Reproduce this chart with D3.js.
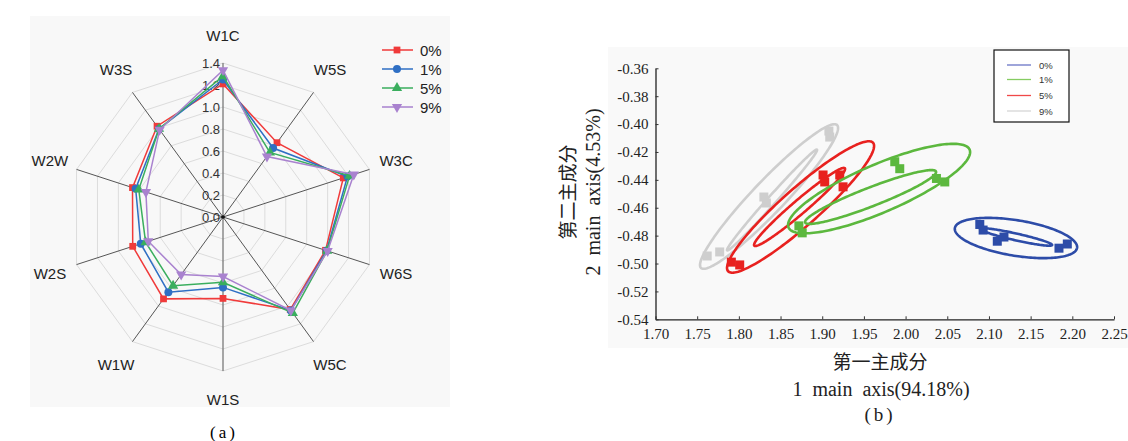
<!DOCTYPE html>
<html lang="zh">
<head>
<meta charset="UTF-8">
<title>Radar and PCA</title>
<script src="https://d3js.org/d3.v7.min.js"></script>
<style>
  body { margin: 0; background: #fff; }
  svg text { font-family: "Liberation Sans", Arial, sans-serif; }
  svg text.serif { font-family: "Liberation Serif", "Times New Roman", "Noto Sans CJK SC", serif; }
</style>
</head>
<body>
<div id="chart"></div>
<script>
const w = 1128;
const h = 441;

// ---- (a) radar data ----
const sensors = ["W1C", "W5S", "W3C", "W6S", "W5C", "W1S", "W1W", "W2S", "W2W", "W3S"];
const ringTicks = [0, 0.2, 0.4, 0.6, 0.8, 1.0, 1.2, 1.4];
const radarNames = ["0%", "1%", "5%", "9%"];
const radar0 = [1.21, 0.835, 1.15, 0.98, 1.04, 0.74, 0.92, 0.863, 0.865, 1.02];
const radar1 = [1.25, 0.775, 1.19, 0.99, 1.05, 0.64, 0.845, 0.786, 0.835, 0.99];
const radar5 = [1.28, 0.725, 1.21, 0.995, 1.08, 0.594, 0.772, 0.74, 0.805, 0.99];
const radar9 = [1.335, 0.68, 1.25, 1.0, 1.05, 0.541, 0.647, 0.714, 0.737, 0.98];

// ---- (b) PCA data ----
const pcaNames = ["0%", "1%", "5%", "9%"];
const xTicks = [1.70, 1.75, 1.80, 1.85, 1.90, 1.95, 2.00, 2.05, 2.10, 2.15, 2.20, 2.25];
const yTicks = [-0.36, -0.38, -0.40, -0.42, -0.44, -0.46, -0.48, -0.50, -0.52, -0.54];
const pts0 = [[2.089, -0.472], [2.093, -0.476], [2.110, -0.484], [2.118, -0.481], [2.184, -0.489], [2.194, -0.486]];
const pts1 = [[1.987, -0.427], [1.993, -0.432], [2.037, -0.439], [2.047, -0.4415], [1.872, -0.473], [1.876, -0.478]];
const pts5 = [[1.791, -0.499], [1.801, -0.501], [1.901, -0.4365], [1.903, -0.4415], [1.921, -0.4365], [1.925, -0.445]];
const pts9 = [[1.762, -0.4946], [1.777, -0.4917], [1.830, -0.4523], [1.833, -0.4566], [1.908, -0.405], [1.909, -0.4093]];
// ellipses: [left x, left y, right x, right y, vertical half-thickness]
const ell0 = [[2.059, -0.4752, 2.2058, -0.4882, 0.0129], [2.0894, -0.4752, 2.1758, -0.4867, 0.0025]];
const ell1 = [[1.859, -0.4724, 2.0774, -0.4201, 0.0186], [1.8794, -0.4702, 2.0366, -0.4344, 0.0072]];
const ell5 = [[1.7858, -0.5032, 1.9622, -0.4157, 0.0175], [1.8182, -0.4867, 1.9274, -0.4322, 0.0065]];
const ell9 = [[1.7534, -0.5011, 1.919, -0.4028, 0.0165], [1.7858, -0.4903, 1.8938, -0.4186, 0.0045]];

const svg = d3.select("#chart")
  .append("svg")
  .attr("width", w)
  .attr("height", h);

// panel backgrounds
svg.append("rect").attr("x", 30).attr("y", 16).attr("width", 420).attr("height", 391).attr("fill", "#f8f8f8");
svg.append("rect").attr("x", 608).attr("y", 47).attr("width", 520).attr("height", 301).attr("fill", "#f9f9f9");

// ================= (a) radar =================
const cx = 223, cy = 217, R = 154;
const rscale = d3.scaleLinear().domain([0, 1.4]).range([0, R]);
const angle = i => i * 2 * Math.PI / sensors.length;

const radar = svg.append("g").attr("transform", `translate(${cx},${cy})`);

// grid rings
ringTicks.slice(1).forEach(t => {
  radar.append("path")
    .attr("d", d3.lineRadial().angle((d, i) => angle(i)).radius(() => rscale(t)).curve(d3.curveLinearClosed)(sensors))
    .attr("fill", "none")
    .attr("stroke", "#dcdcdc")
    .attr("stroke-width", 1);
});

// spokes
sensors.forEach((s, i) => {
  const a = angle(i);
  radar.append("line")
    .attr("x1", 0).attr("y1", 0)
    .attr("x2", rscale(1.4) * Math.sin(a))
    .attr("y2", -rscale(1.4) * Math.cos(a))
    .attr("stroke", "#555")
    .attr("stroke-width", 1);
  radar.append("text")
    .attr("x", 182 * Math.sin(a))
    .attr("y", -182 * Math.cos(a))
    .attr("text-anchor", "middle")
    .attr("dominant-baseline", "central")
    .attr("font-size", 15)
    .attr("fill", "#222")
    .text(s);
});
radar.append("circle").attr("r", 1.8).attr("fill", "#111");

// ring tick labels
ringTicks.forEach(t => {
  radar.append("text")
    .attr("x", -3)
    .attr("y", -rscale(t))
    .attr("text-anchor", "end")
    .attr("dominant-baseline", "central")
    .attr("font-size", 13)
    .attr("fill", "#333")
    .text(t.toFixed(1));
});

const radarSeries = [radar0, radar1, radar5, radar9];
const radarColors = ["#f03a3a", "#2f6fc4", "#3aae5e", "#a982cf"];
const triDown = {
  draw(ctx, size) {
    const s = Math.sqrt(size / 0.433);
    ctx.moveTo(0, s * 0.577);
    ctx.lineTo(s / 2, -s * 0.289);
    ctx.lineTo(-s / 2, -s * 0.289);
    ctx.closePath();
  }
};
const radarSymbols = [d3.symbolSquare, d3.symbolCircle, d3.symbolTriangle, triDown];
const symSize = [46, 50, 46, 46];

radarSeries.forEach((vals, k) => {
  radar.append("path")
    .attr("d", d3.lineRadial().angle((d, i) => angle(i)).radius(d => rscale(d)).curve(d3.curveLinearClosed)(vals))
    .attr("fill", "none")
    .attr("stroke", radarColors[k])
    .attr("stroke-width", 1.5);
  radar.selectAll(null)
    .data(vals)
    .enter()
    .append("path")
    .attr("d", d3.symbol().type(radarSymbols[k]).size(symSize[k]))
    .attr("transform", (d, i) => `translate(${rscale(d) * Math.sin(angle(i))},${-rscale(d) * Math.cos(angle(i))})`)
    .attr("fill", radarColors[k]);
});

// radar legend
radarNames.forEach((n, k) => {
  const y = 50 + k * 19;
  svg.append("line")
    .attr("x1", 382).attr("x2", 413).attr("y1", y).attr("y2", y)
    .attr("stroke", radarColors[k]).attr("stroke-width", 1.5);
  svg.append("path")
    .attr("d", d3.symbol().type(radarSymbols[k]).size(symSize[k]))
    .attr("transform", `translate(397,${y})`)
    .attr("fill", radarColors[k]);
  svg.append("text")
    .attr("x", 420).attr("y", y)
    .attr("dominant-baseline", "central")
    .attr("font-size", 15)
    .attr("fill", "#222")
    .text(n);
});

svg.append("text").attr("class", "serif")
  .attr("x", 224).attr("y", 432)
  .attr("text-anchor", "middle").attr("dominant-baseline", "central")
  .attr("font-size", 17).attr("letter-spacing", 3)
  .text("(a)");

// ================= (b) PCA =================
const xscale = d3.scaleLinear().domain([1.70, 2.25]).range([655.5, 1114]);
const yscale = d3.scaleLinear().domain([-0.54, -0.36]).range([319.3, 68.3]);

const Xaxis = d3.axisBottom(xscale).tickValues(xTicks).tickFormat(d3.format(".2f")).tickSizeInner(-3).tickSizeOuter(0).tickPadding(9);
const Yaxis = d3.axisLeft(yscale).tickValues(yTicks).tickFormat(d3.format(".2f")).tickSizeInner(-3).tickSizeOuter(0).tickPadding(7);

const gx = svg.append("g").attr("transform", `translate(0,${yscale(-0.54)})`).call(Xaxis);
const gy = svg.append("g").attr("transform", `translate(${xscale(1.70)},0)`).call(Yaxis);
[gx, gy].forEach(g => {
  g.selectAll("path").attr("stroke", "#222").attr("stroke-width", 1.3);
  g.selectAll("line").attr("stroke", "#333");
  g.selectAll("text").attr("class", "serif").attr("font-size", 15).attr("fill", "#222");
});
gy.selectAll("text").text(d => d3.format(".2f")(d).replace("−", "-"));

const pcaSeries = [
  { pts: pts0, ell: ell0, color: "#2d4ca8" },
  { pts: pts1, ell: ell1, color: "#5cb83e" },
  { pts: pts5, ell: ell5, color: "#e8211f" },
  { pts: pts9, ell: ell9, color: "#cecece" }
];

const ts = d3.range(0, 2 * Math.PI, Math.PI / 90);
const ellLine = d3.line().curve(d3.curveLinearClosed);

// draw gray first so the colored loops lie over it
[3, 2, 1, 0].forEach(k => {
  const s = pcaSeries[k];
  s.ell.forEach(e => {
    const mx = (e[0] + e[2]) / 2, my = (e[1] + e[3]) / 2;
    const ux = (e[2] - e[0]) / 2, uy = (e[3] - e[1]) / 2;
    const pts = ts.map(t => [xscale(mx + ux * Math.cos(t)), yscale(my + uy * Math.cos(t) + e[4] * Math.sin(t))]);
    svg.append("path")
      .attr("d", ellLine(pts))
      .attr("fill", "none")
      .attr("stroke", s.color)
      .attr("stroke-width", 2.6);
  });
  svg.selectAll(null)
    .data(s.pts)
    .enter()
    .append("rect")
    .attr("x", d => xscale(d[0]) - 4.5)
    .attr("y", d => yscale(d[1]) - 4.5)
    .attr("width", 9)
    .attr("height", 9)
    .attr("fill", s.color);
});

// PCA legend
const legColors = ["#6a74c6", "#86cc62", "#f04848", "#d6d6d6"];
svg.append("rect")
  .attr("x", 994).attr("y", 50).attr("width", 75).attr("height", 72)
  .attr("fill", "#fff").attr("stroke", "#111").attr("stroke-width", 1.2);
[65, 79.5, 95.5, 111].forEach((y, k) => {
  svg.append("line")
    .attr("x1", 1007).attr("x2", 1031).attr("y1", y).attr("y2", y)
    .attr("stroke", legColors[k]).attr("stroke-width", 1.3);
  svg.append("text")
    .attr("x", 1039).attr("y", y)
    .attr("dominant-baseline", "central")
    .attr("font-size", 9.5)
    .attr("fill", "#333")
    .text(pcaNames[k]);
});

// axis titles
svg.append("text").attr("class", "serif")
  .attr("transform", "translate(568,192) rotate(-90)")
  .attr("text-anchor", "middle").attr("dominant-baseline", "central")
  .attr("font-size", 19).attr("fill", "#222")
  .text("第二主成分");
svg.append("text").attr("class", "serif")
  .attr("transform", "translate(593,192) rotate(-90)")
  .attr("text-anchor", "middle").attr("dominant-baseline", "central")
  .attr("font-size", 20).attr("fill", "#222")
  .style("white-space", "pre")
  .text("2  main  axis(4.53%)");

svg.append("text").attr("class", "serif")
  .attr("x", 880).attr("y", 362)
  .attr("text-anchor", "middle").attr("dominant-baseline", "central")
  .attr("font-size", 19).attr("fill", "#222")
  .text("第一主成分");
svg.append("text").attr("class", "serif")
  .attr("x", 881).attr("y", 389)
  .attr("text-anchor", "middle").attr("dominant-baseline", "central")
  .attr("font-size", 20).attr("fill", "#222")
  .style("white-space", "pre")
  .text("1  main  axis(94.18%)");
svg.append("text").attr("class", "serif")
  .attr("x", 880).attr("y", 414)
  .attr("text-anchor", "middle").attr("dominant-baseline", "central")
  .attr("font-size", 19).attr("letter-spacing", 3).attr("fill", "#222")
  .text("(b)");
</script>
</body>
</html>
